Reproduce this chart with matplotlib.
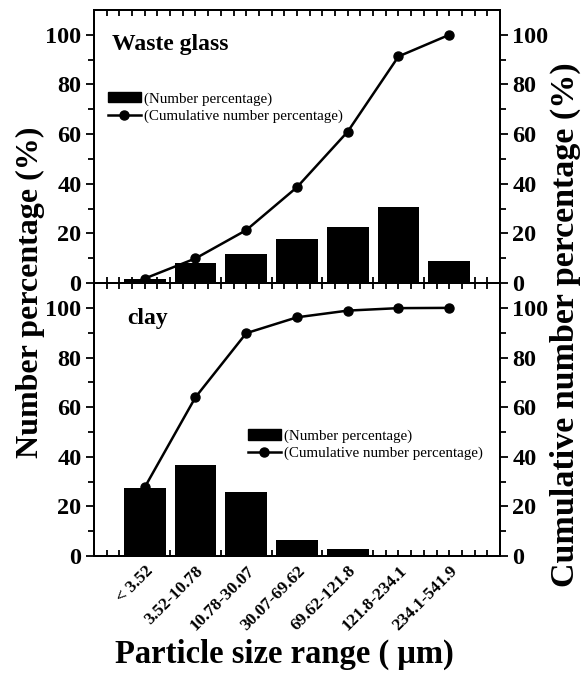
import matplotlib
matplotlib.use("Agg")
import matplotlib.pyplot as plt
from matplotlib.ticker import FixedLocator
from matplotlib.patches import Patch
from matplotlib.lines import Line2D
import numpy as np

# size classes (um)
size_ranges = ["< 3.52", "3.52-10.78", "10.78-30.07", "30.07-69.62",
               "69.62-121.8", "121.8-234.1", "234.1-541.9"]

# waste glass
glass_number = [1.8, 7.9, 11.6, 17.6, 22.6, 30.5, 8.9]
glass_cumulative = [1.8, 9.9, 21.3, 38.6, 61.0, 91.3, 100.0]

# clay
clay_number = [27.3, 36.7, 25.8, 6.5, 2.7, 0.2, 0.0]
clay_cumulative = [27.7, 64.0, 89.8, 96.2, 98.9, 99.9, 100.0]

plt.rcParams['font.family'] = ['Liberation Serif', 'DejaVu Serif']
plt.rcParams['font.weight'] = 'bold'

fig = plt.figure(figsize=(5.86, 6.73), dpi=100)
ax_top = fig.add_axes([0.1604, 0.5795, 0.6928, 0.4056])
ax_bot = fig.add_axes([0.1604, 0.1738, 0.6928, 0.4056])

x = np.arange(1, len(size_ranges) + 1)


def draw_panel(ax, number, cumulative, name, name_x, leg_pos):
    ax.bar(x, number, width=0.82, color='black', zorder=2)
    ax.set_xlim(0, 8)
    ax.set_ylim(0, 110)

    ax2 = ax.twinx()
    ax2.plot(x, cumulative, color='black', lw=1.8, marker='o', ms=6.5, zorder=3)
    ax2.set_ylim(0, 110)

    for a in (ax, ax2):
        a.yaxis.set_major_locator(FixedLocator([0, 20, 40, 60, 80, 100]))
        a.yaxis.set_minor_locator(FixedLocator(np.arange(10, 110, 20)))
        a.tick_params(axis='y', which='major', direction='out', length=6, width=1.3,
                      labelsize=17.5, pad=3)
        a.tick_params(axis='y', which='minor', direction='out', length=4, width=1.3)
        for s in a.spines.values():
            s.set_linewidth(1.4)

    # x ticks: short marks every 0.25, long marks between the classes
    ax.set_xticks(x)
    ax.xaxis.set_minor_locator(FixedLocator([v for v in np.arange(0.25, 8, 0.25) if v % 1 != 0]))
    ax.tick_params(axis='x', which='both', direction='in', top=True, bottom=True, width=1.3)
    ax.tick_params(axis='x', which='major', length=4)
    ax.tick_params(axis='x', which='minor', length=4)
    for t in ax.xaxis.get_minor_ticks():
        if abs(t.get_loc() % 1 - 0.5) < 1e-6:
            t.tick1line.set_markersize(8)

    ax.text(name_x, 0.872, name, transform=ax.transAxes, fontsize=17,
            fontweight='bold', va='center', ha='left')

    handles = [Patch(facecolor='black', edgecolor='black'),
               Line2D([], [], color='black', lw=1.8, marker='o', ms=6.5)]
    ax.legend(handles, ["(Number percentage)", "(Cumulative number percentage)"],
              loc='upper left', bbox_to_anchor=leg_pos, frameon=False,
              prop={'family': 'Liberation Serif', 'weight': 'normal', 'size': 10.8},
              handlelength=2.2, handletextpad=0.2, labelspacing=0.25,
              borderpad=0, borderaxespad=0)
    return ax2


draw_panel(ax_top, glass_number, glass_cumulative, "Waste glass", 0.044, (0.034, 0.70))
draw_panel(ax_bot, clay_number, clay_cumulative, "clay", 0.081, (0.379, 0.465))

ax_top.tick_params(axis='x', labelbottom=False)
ax_bot.set_xticklabels(size_ranges, rotation=45, ha='right', va='top',
                       rotation_mode='anchor', fontsize=12.5, fontweight='bold')
ax_bot.tick_params(axis='x', which='major', pad=5)

fig.text(0.052, 0.565, "Number percentage (%)", rotation=90, fontsize=23,
         fontweight='bold', ha='center', va='center')
fig.text(0.965, 0.517, "Cumulative number percentage (%)", rotation=90, fontsize=24.5,
         fontweight='bold', ha='center', va='center')
fig.text(0.485, 0.027, "Particle size range ( \u03bcm)", fontsize=23.5,
         fontweight='bold', ha='center', va='center')

fig.savefig("out.png", dpi=100)
